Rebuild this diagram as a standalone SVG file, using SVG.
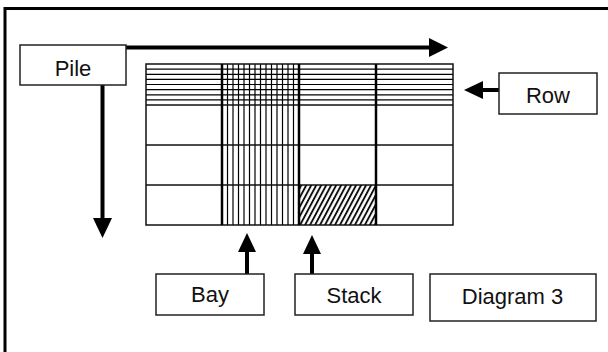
<svg xmlns="http://www.w3.org/2000/svg" width="608" height="352" viewBox="0 0 608 352">
<style>
  .box { fill: #ffffff; stroke: #222222; stroke-width: 1.5; }
  .lbl { font-family: "Liberation Sans", Arial, sans-serif; font-size: 22px; fill: #111111; text-anchor: middle; dominant-baseline: central; }
  .conn { stroke: #000000; stroke-width: 4; fill: none; }
  .head { fill: #000000; stroke: none; }
  .thin { stroke: #000000; stroke-width: 1.2; }
  .mid { stroke: #111111; stroke-width: 1.5; }
  .thick { stroke: #000000; stroke-width: 2.5; }
</style>
<defs>
  <pattern id="hatch" patternUnits="userSpaceOnUse" width="4.4" height="10" patternTransform="rotate(28)">
    <line x1="1" y1="-1" x2="1" y2="11" stroke="#000" stroke-width="1.8"/>
  </pattern>
</defs>
<rect width="608" height="352" fill="#ffffff"/>
<path d="M5,352 V8.5 H608" fill="none" stroke="#000" stroke-width="3"/>

<g id="grid">
  <rect x="299" y="185" width="77" height="40" fill="url(#hatch)"/>
  <g class="thin">
    <line x1="146" y1="69.1" x2="453" y2="69.1"/>
    <line x1="146" y1="74.3" x2="453" y2="74.3"/>
    <line x1="146" y1="79.4" x2="453" y2="79.4"/>
    <line x1="146" y1="84.5" x2="453" y2="84.5"/>
    <line x1="146" y1="89.6" x2="453" y2="89.6"/>
    <line x1="146" y1="94.8" x2="453" y2="94.8"/>
    <line x1="146" y1="99.9" x2="453" y2="99.9"/>
    <line x1="227.5" y1="64" x2="227.5" y2="225"/>
    <line x1="233" y1="64" x2="233" y2="225"/>
    <line x1="238.5" y1="64" x2="238.5" y2="225"/>
    <line x1="244" y1="64" x2="244" y2="225"/>
    <line x1="249.5" y1="64" x2="249.5" y2="225"/>
    <line x1="255" y1="64" x2="255" y2="225"/>
    <line x1="260.5" y1="64" x2="260.5" y2="225"/>
    <line x1="266" y1="64" x2="266" y2="225"/>
    <line x1="271.5" y1="64" x2="271.5" y2="225"/>
    <line x1="277" y1="64" x2="277" y2="225"/>
    <line x1="282.5" y1="64" x2="282.5" y2="225"/>
    <line x1="288" y1="64" x2="288" y2="225"/>
    <line x1="293.5" y1="64" x2="293.5" y2="225"/>
  </g>
  <g class="mid">
    <line x1="146" y1="105" x2="453" y2="105"/>
    <line x1="146" y1="145" x2="453" y2="145"/>
    <line x1="146" y1="185" x2="453" y2="185"/>
    <rect x="146" y="64" width="307" height="161" fill="none"/>
  </g>
  <g class="thick">
    <line x1="222" y1="64" x2="222" y2="225"/>
    <line x1="299" y1="64" x2="299" y2="225"/>
    <line x1="376" y1="64" x2="376" y2="225"/>
  </g>
</g>

<g id="connectors">
  <line class="conn" x1="126" y1="47.5" x2="431" y2="47.5"/>
  <polygon class="head" points="429,38 448,47.5 429,57"/>
  <line class="conn" x1="102.5" y1="85" x2="102.5" y2="220"/>
  <polygon class="head" points="93,218 102.5,238 112,218"/>
  <line class="conn" x1="499" y1="90" x2="481" y2="90"/>
  <polygon class="head" points="483,81 464,90 483,99"/>
  <line class="conn" x1="247" y1="274" x2="247" y2="250"/>
  <polygon class="head" points="238,252 247,233 256,252"/>
  <line class="conn" x1="312" y1="274" x2="312" y2="252"/>
  <polygon class="head" points="303,254 312,235 321,254"/>
</g>

<g id="pile">
  <rect class="box" x="20" y="45" width="106" height="40"/>
  <text class="lbl" x="73" y="68">Pile</text>
</g>
<g id="row">
  <rect class="box" x="499" y="73" width="98" height="41"/>
  <text class="lbl" x="548" y="95">Row</text>
</g>
<g id="bay">
  <rect class="box" x="156" y="274" width="108" height="41"/>
  <text class="lbl" x="210" y="294.5">Bay</text>
</g>
<g id="stack">
  <rect class="box" x="295" y="274" width="118" height="41"/>
  <text class="lbl" x="354" y="295.5">Stack</text>
</g>
<g id="diagram3">
  <rect class="box" x="430" y="274" width="166" height="47"/>
  <text class="lbl" x="512.5" y="296.5">Diagram 3</text>
</g>
</svg>
